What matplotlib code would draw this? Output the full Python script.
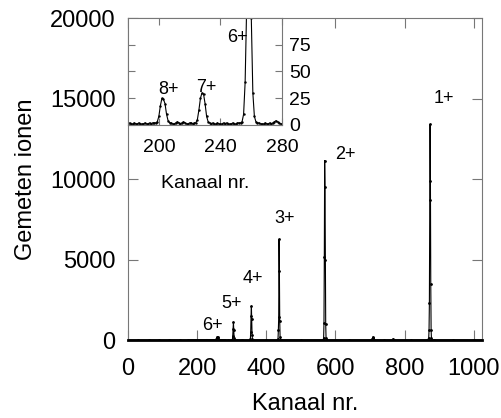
import numpy as np
import matplotlib
matplotlib.use("Agg")
import matplotlib.pyplot as plt

plt.rcParams['font.family'] = ['Liberation Sans', 'DejaVu Sans']

# spectrum, detailed part (channels 180..280, shown in the inset)
inset_kanaal = np.arange(180, 281)
inset_counts = [1, 2, 1, 1, 2, 1, 1, 2, 1, 1, 1, 2, 1, 1, 2, 1, 2, 2,
                2, 3, 8, 18, 25, 24, 20, 10, 4, 2,
                2, 1, 1, 2, 3, 2, 1, 2, 3, 2, 1, 1, 2, 2, 1, 2,
                2, 5, 14, 25, 30, 29, 20, 8, 3, 2,
                1, 2, 1, 1, 2, 1, 1, 1, 2, 1, 2, 1, 1, 1, 2, 1, 1, 2, 2, 2,
                3, 10, 40, 110, 200, 190, 100, 30, 8, 3, 2,
                2, 1, 1, 1, 2, 1, 1, 2, 1, 2, 3, 4, 3, 2, 1, 1]

# spectrum, rest of the channels
lo_kanaal = [0, 30, 60, 90, 120, 150, 175]
lo_counts = [2, 1, 2, 1, 2, 1, 1]

hi_kanaal = [290, 300, 302, 303, 304, 305, 306, 307, 308, 310,
             330, 352, 354, 355, 356, 357, 358, 359, 360, 362,
             400, 432, 434, 435, 436, 437, 438, 439, 440, 442,
             500, 564, 566, 567, 568, 569, 570, 571, 572, 573, 575,
             640, 704, 706, 708, 709, 710, 712, 740, 765, 767, 769,
             820, 866, 870, 871, 872, 873, 874, 875, 876, 877, 878, 880, 884,
             940, 1000, 1024]
hi_counts = [2, 5, 30, 250, 700, 1100, 600, 150, 20, 5,
             3, 5, 40, 500, 1500, 2100, 1300, 300, 40, 5,
             3, 5, 60, 600, 1400, 6250, 4300, 1200, 200, 10,
             3, 10, 100, 1060, 5160, 11150, 9500, 5000, 1000, 150, 10,
             3, 5, 60, 150, 200, 120, 10, 3, 5, 80, 5,
             3, 10, 100, 620, 2300, 8700, 13400, 9900, 3500, 600, 100, 20, 5,
             3, 2, 2]

kanaal = lo_kanaal + list(inset_kanaal) + hi_kanaal
counts = lo_counts + inset_counts + hi_counts

# peak labels
main_labels = ['1+', '2+', '3+', '4+', '5+', '6+']
main_lab_x = [913, 629, 452, 362, 301, 243]
main_lab_y = [15000, 11500, 7550, 3850, 2250, 900]
inset_labels = ['6+', '7+', '8+']
inset_lab_x = [251, 231, 206]
inset_lab_y = [82, 35, 33]

fig = plt.figure(figsize=(5.02, 4.18), dpi=100)
ax = fig.add_axes([0.255, 0.1866, 0.705, 0.770])
ax.plot(kanaal, counts, color='black', lw=0.8, marker='.', ms=2)
ax.set_xlim(0, 1024)
ax.set_ylim(0, 20000)
ax.set_xticks([0, 200, 400, 600, 800, 1000])
ax.set_yticks([0, 5000, 10000, 15000, 20000])
ax.tick_params(direction='in', top=True, right=True, length=7, width=0.8,
               color='#777777', labelsize=17, pad=9)
ax.tick_params(axis='x', pad=13)
for s in ['left', 'right', 'top']:
    ax.spines[s].set_color('#777777')
    ax.spines[s].set_linewidth(0.8)
ax.spines['bottom'].set_linewidth(2)
ax.set_xlabel('Kanaal nr.', fontsize=17, labelpad=9)
ax.set_ylabel('Gemeten ionen', fontsize=17, labelpad=9)
for t, x, y in zip(main_labels, main_lab_x, main_lab_y):
    ax.text(x, y, t, fontsize=13, ha='center', va='center')

# inset
ins = fig.add_axes([0.255, 0.701, 0.307, 0.256])
ins.plot(kanaal, counts, color='black', lw=0.8, marker='.', ms=1.5)
ins.set_xlim(180, 280)
ins.set_ylim(0, 100)
ins.set_xticks([200, 240, 280])
ins.set_yticks([0, 25, 50, 75])
ins.yaxis.tick_right()
ins.tick_params(direction='in', top=True, left=True, right=True, length=5,
                width=0.8, color='#777777', labelsize=14, pad=5)
ins.tick_params(axis='x', pad=10)
for s in ins.spines.values():
    s.set_color('#777777')
    s.set_linewidth(0.8)
ins.set_xlabel('Kanaal nr.', fontsize=14, labelpad=14)
for t, x, y in zip(inset_labels, inset_lab_x, inset_lab_y):
    ins.text(x, y, t, fontsize=13, ha='center', va='center')

fig.savefig('out.png', dpi=100)
